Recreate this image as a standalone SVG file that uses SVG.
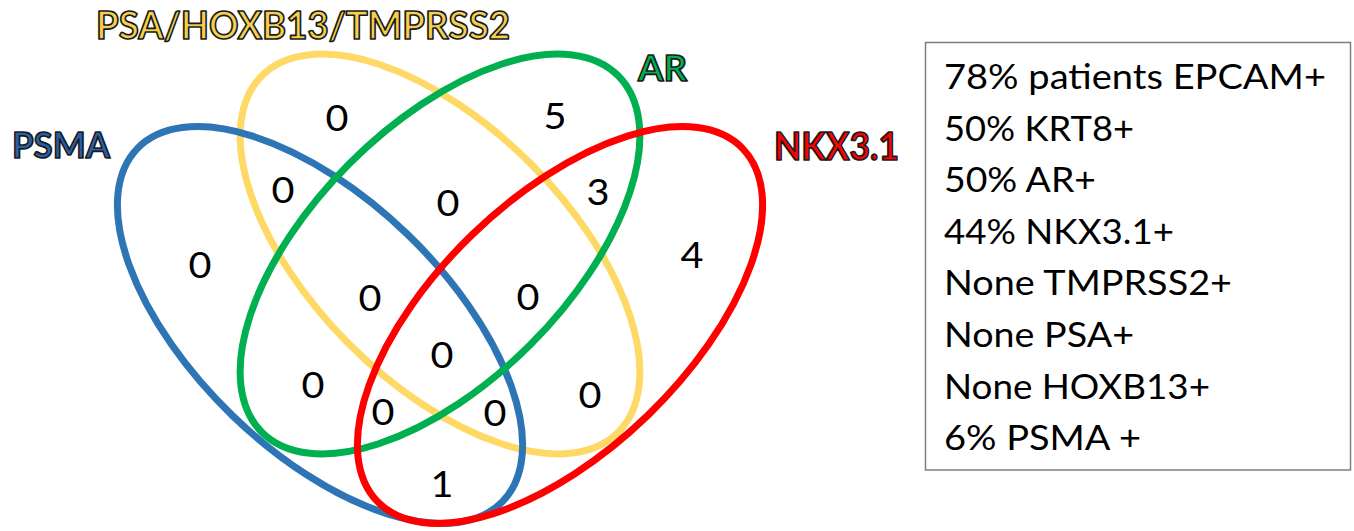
<svg xmlns="http://www.w3.org/2000/svg" width="1354" height="531" viewBox="0 0 1354 531">
<style>
.set{fill:none;stroke-width:7}
.lbl{font-family:Lato,"Open Sans","Liberation Sans",sans-serif;font-weight:bold;stroke:#1a1a1a;stroke-width:1.7;stroke-linejoin:round}
.n{font-family:Lato,"Open Sans","Liberation Sans",sans-serif;font-size:37px;fill:#000;text-anchor:middle}
.t{font-family:Lato,"Open Sans","Liberation Sans",sans-serif;font-size:35px;fill:#000}
</style>
<rect width="1354" height="531" fill="#fff"/>
<g id="set-psa">
<ellipse class="set" stroke="#FFD966" cx="440" cy="254" rx="252" ry="128" transform="rotate(45 440 254)"/>
<text class="lbl" x="96" y="39" font-size="38" fill="#F6D04D" textLength="414" lengthAdjust="spacingAndGlyphs">PSA/HOXB13/TMPRSS2</text>
</g>
<g id="set-psma">
<ellipse class="set" stroke="#2E75B6" cx="320" cy="325" rx="254" ry="126" transform="rotate(44 320 325)"/>
<text class="lbl" x="12" y="158" font-size="37" fill="#2A5FA8" textLength="98" lengthAdjust="spacingAndGlyphs">PSMA</text>
</g>
<g id="set-ar">
<ellipse class="set" stroke="#00B050" cx="440" cy="254" rx="252" ry="128" transform="rotate(-45 440 254)"/>
<text class="lbl" x="638" y="81" font-size="37" fill="#00B050" textLength="49" lengthAdjust="spacingAndGlyphs">AR</text>
</g>
<g id="set-nkx">
<ellipse class="set" stroke="#FF0000" cx="560" cy="325" rx="254" ry="126" transform="rotate(-44 560 325)"/>
<text class="lbl" x="774" y="160" font-size="38" fill="#FF0000" textLength="125" lengthAdjust="spacingAndGlyphs">NKX3.1</text>
</g>
<g id="counts">
<text class="n" x="337" y="131" textLength="23" lengthAdjust="spacingAndGlyphs">0</text>
<text class="n" x="555" y="129" textLength="23" lengthAdjust="spacingAndGlyphs">5</text>
<text class="n" x="283" y="203" textLength="23" lengthAdjust="spacingAndGlyphs">0</text>
<text class="n" x="448" y="216" textLength="23" lengthAdjust="spacingAndGlyphs">0</text>
<text class="n" x="598" y="205" textLength="23" lengthAdjust="spacingAndGlyphs">3</text>
<text class="n" x="200" y="278" textLength="23" lengthAdjust="spacingAndGlyphs">0</text>
<text class="n" x="692" y="268" textLength="23" lengthAdjust="spacingAndGlyphs">4</text>
<text class="n" x="370" y="311" textLength="23" lengthAdjust="spacingAndGlyphs">0</text>
<text class="n" x="528" y="310" textLength="23" lengthAdjust="spacingAndGlyphs">0</text>
<text class="n" x="442" y="368" textLength="23" lengthAdjust="spacingAndGlyphs">0</text>
<text class="n" x="313" y="398" textLength="23" lengthAdjust="spacingAndGlyphs">0</text>
<text class="n" x="383" y="425" textLength="23" lengthAdjust="spacingAndGlyphs">0</text>
<text class="n" x="495" y="426" textLength="23" lengthAdjust="spacingAndGlyphs">0</text>
<text class="n" x="590" y="408" textLength="23" lengthAdjust="spacingAndGlyphs">0</text>
<text class="n" x="442" y="497" textLength="23" lengthAdjust="spacingAndGlyphs">1</text>
</g>
<g id="legend">
<rect x="925.5" y="42.5" width="425" height="427.5" fill="#fff" stroke="#7F7F7F" stroke-width="1.5"/>
<text class="t" x="944" y="89" textLength="382" lengthAdjust="spacingAndGlyphs">78% patients EPCAM+</text>
<text class="t" x="944" y="140.6" textLength="190" lengthAdjust="spacingAndGlyphs">50% KRT8+</text>
<text class="t" x="944" y="192.2" textLength="152" lengthAdjust="spacingAndGlyphs">50% AR+</text>
<text class="t" x="944" y="243.8" textLength="230" lengthAdjust="spacingAndGlyphs">44% NKX3.1+</text>
<text class="t" x="944" y="295.4" textLength="288" lengthAdjust="spacingAndGlyphs">None TMPRSS2+</text>
<text class="t" x="944" y="347" textLength="190" lengthAdjust="spacingAndGlyphs">None PSA+</text>
<text class="t" x="944" y="398.6" textLength="266" lengthAdjust="spacingAndGlyphs">None HOXB13+</text>
<text class="t" x="944" y="450.2" textLength="197" lengthAdjust="spacingAndGlyphs">6% PSMA +</text>
</g>
</svg>
